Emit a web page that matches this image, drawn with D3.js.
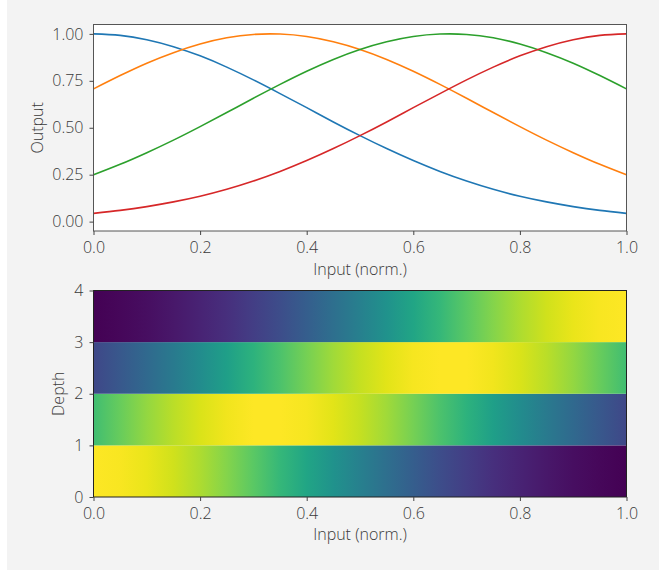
<!DOCTYPE html>
<html>
<head>
<meta charset="utf-8">
<script src="https://cdn.jsdelivr.net/npm/d3@7"></script>
<style>
  body { margin: 0; background: #fff; }
  svg { display: block; }
  text { font-family: "Open Sans", "DejaVu Sans", sans-serif; font-weight: 300; fill: #3a3a3a; }
</style>
</head>
<body>
<svg id="chart" width="659" height="572"></svg>
<script>
// x samples (normalised input)
const xs = [0, 0.05, 0.1, 0.15, 0.2, 0.25, 0.3, 0.35, 0.4, 0.45, 0.5,
            0.55, 0.6, 0.65, 0.7, 0.75, 0.8, 0.85, 0.9, 0.95, 1];

// four response curves
const blue   = [1.000, 0.992, 0.969, 0.932, 0.883, 0.823, 0.755, 0.682, 0.607, 0.531, 0.458,
                0.389, 0.325, 0.267, 0.216, 0.172, 0.135, 0.105, 0.080, 0.060, 0.044];
const orange = [0.707, 0.778, 0.844, 0.900, 0.946, 0.979, 0.997, 0.999, 0.986, 0.958, 0.917,
                0.864, 0.801, 0.731, 0.657, 0.581, 0.506, 0.434, 0.367, 0.305, 0.249];
const green  = [0.249, 0.305, 0.367, 0.434, 0.506, 0.581, 0.657, 0.731, 0.801, 0.864, 0.917,
                0.958, 0.986, 0.999, 0.997, 0.979, 0.946, 0.900, 0.844, 0.778, 0.707];
const red    = [0.044, 0.060, 0.080, 0.105, 0.135, 0.172, 0.216, 0.267, 0.325, 0.389, 0.458,
                0.531, 0.607, 0.682, 0.755, 0.823, 0.883, 0.932, 0.969, 0.992, 1.000];

const series = [blue, orange, green, red];
const colors = ['#1f77b4', '#ff7f0e', '#2ca02c', '#d62728'];

const xTicks = [0, 0.2, 0.4, 0.6, 0.8, 1.0];
const yTicksTop = [0, 0.25, 0.5, 0.75, 1.0];
const depthTicks = [0, 1, 2, 3, 4];

const svg = d3.select('#chart');

// fond gris
svg.append('rect')
    .attr('x', 7).attr('y', 0)
    .attr('width', 652).attr('height', 570)
    .attr('fill', '#f3f3f3');

const left = 93.5, right = 626.5;
const x = d3.scaleLinear().domain([0, 1]).range([left, right]);

// --- panneau du haut : courbes ---
const top1 = 24.5, bot1 = 231;
const y1 = d3.scaleLinear().domain([-0.05, 1.05]).range([bot1, top1]);

svg.append('rect')
    .attr('x', left).attr('y', top1)
    .attr('width', right - left).attr('height', bot1 - top1)
    .attr('fill', '#fff');

const line = d3.line()
    .x((d, i) => x(xs[i]))
    .y(d => y1(d))
    .curve(d3.curveNatural);

svg.append('g')
    .selectAll('path')
    .data(series)
    .join('path')
    .attr('d', line)
    .attr('fill', 'none')
    .attr('stroke', (d, i) => colors[i])
    .attr('stroke-width', 1.6);

svg.append('rect')
    .attr('x', left).attr('y', top1)
    .attr('width', right - left).attr('height', bot1 - top1)
    .attr('fill', 'none').attr('stroke', '#555').attr('stroke-width', 1);

function styleAxis(g) {
    g.select('.domain').remove();
    g.selectAll('.tick line').attr('stroke', '#444');
    g.selectAll('.tick text')
        .attr('font-size', 16)
        .attr('font-family', null)
        .attr('fill', '#3a3a3a');
}

svg.append('g')
    .attr('transform', `translate(0,${bot1})`)
    .call(d3.axisBottom(x).tickValues(xTicks).tickFormat(d3.format('.1f')).tickSize(4).tickPadding(6.5))
    .call(styleAxis);

svg.append('g')
    .attr('transform', `translate(${left},0)`)
    .call(d3.axisLeft(y1).tickValues(yTicksTop).tickFormat(d3.format('.2f')).tickSize(4).tickPadding(6))
    .call(styleAxis);

svg.append('text')
    .attr('x', (left + right) / 2).attr('y', 274.5)
    .attr('text-anchor', 'middle').attr('font-size', 16)
    .text('Input (norm.)');

svg.append('text')
    .attr('transform', `translate(43,${(top1 + bot1) / 2}) rotate(-90)`)
    .attr('text-anchor', 'middle').attr('font-size', 16)
    .text('Output');

// --- panneau du bas : carte de chaleur ---
const top2 = 290.5, bot2 = 497;
const y2 = d3.scaleLinear().domain([0, 4]).range([bot2, top2]);

const allVals = series.flat();
const color = d3.scaleSequential(d3.interpolateViridis)
    .domain([d3.min(allVals), d3.max(allVals)]);

const defs = svg.append('defs');
series.forEach((s, i) => {
    const grad = defs.append('linearGradient')
        .attr('id', `row${i}`)
        .attr('x1', '0%').attr('x2', '100%').attr('y1', '0%').attr('y2', '0%');
    grad.selectAll('stop')
        .data(s)
        .join('stop')
        .attr('offset', (d, j) => `${xs[j] * 100}%`)
        .attr('stop-color', d => color(d));
});

svg.append('g')
    .selectAll('rect')
    .data(series)
    .join('rect')
    .attr('x', left)
    .attr('y', (d, i) => y2(i + 1))
    .attr('width', right - left)
    .attr('height', (d, i) => y2(i) - y2(i + 1))
    .attr('fill', (d, i) => `url(#row${i})`);

svg.append('rect')
    .attr('x', left).attr('y', top2)
    .attr('width', right - left).attr('height', bot2 - top2)
    .attr('fill', 'none').attr('stroke', '#222').attr('stroke-width', 1);

svg.append('g')
    .attr('transform', `translate(0,${bot2})`)
    .call(d3.axisBottom(x).tickValues(xTicks).tickFormat(d3.format('.1f')).tickSize(4).tickPadding(6.5))
    .call(styleAxis);

svg.append('g')
    .attr('transform', `translate(${left},0)`)
    .call(d3.axisLeft(y2).tickValues(depthTicks).tickFormat(d3.format('d')).tickSize(4).tickPadding(6))
    .call(styleAxis);

svg.append('text')
    .attr('x', (left + right) / 2).attr('y', 540)
    .attr('text-anchor', 'middle').attr('font-size', 16)
    .text('Input (norm.)');

svg.append('text')
    .attr('transform', `translate(64,${(top2 + bot2) / 2}) rotate(-90)`)
    .attr('text-anchor', 'middle').attr('font-size', 16)
    .text('Depth');
</script>
</body>
</html>
